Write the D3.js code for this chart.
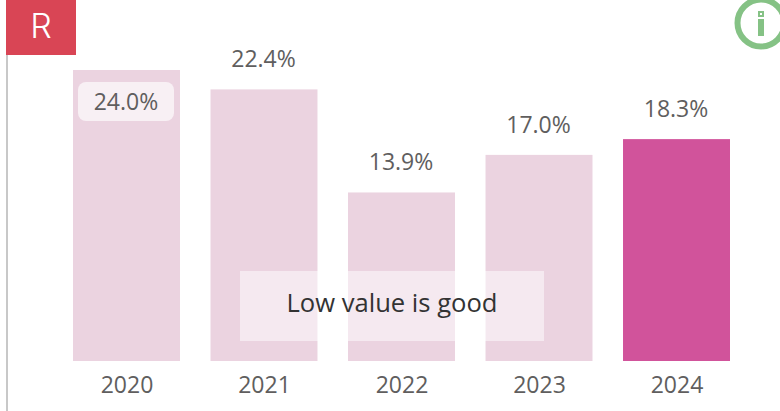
<!DOCTYPE html>
<html><head><meta charset="utf-8">
<script src="https://cdn.jsdelivr.net/npm/d3@7"></script>
<style>html,body{margin:0;padding:0;background:#fff}svg{display:block}text{font-family:"Open Sans",sans-serif}</style>
</head><body><svg id="c" width="780" height="411"></svg>
<script>
const years = ["2020","2021","2022","2023","2024"];
const values = [24.0,22.4,13.9,17.0,18.3];
const highlightYear = "2024";
const note = "Low value is good";
const badge = "R";

const svg = d3.select("#c");
const x = d3.scaleBand().domain(years).range([73,730]).paddingInner(0.222);
const y = d3.scaleLinear().domain([0,24]).range([361,70]);

svg.append("rect").attr("x",6).attr("y",0).attr("width",2).attr("height",411).attr("fill","#c8c8c8");
svg.append("rect").attr("x",6).attr("y",0).attr("width",70).attr("height",55).attr("fill","#d94555");
svg.append("text").attr("x",41).attr("y",38).attr("text-anchor","middle").attr("fill","#fff").attr("font-size",34).attr("font-family","Inter, sans-serif").style("font-family","Inter, sans-serif").attr("font-weight",300).text(badge);

svg.selectAll("rect.bar").data(years).join("rect").attr("class","bar")
  .attr("x",d=>x(d)).attr("width",x.bandwidth())
  .attr("y",(d,i)=>y(values[i])).attr("height",(d,i)=>y(0)-y(values[i]))
  .attr("fill",d=>d===highlightYear?"#d1539b":"#ebd3e0");

svg.append("rect").attr("x",240).attr("y",271).attr("width",304).attr("height",70).attr("fill","#fff").attr("fill-opacity",0.5);
svg.append("text").attr("x",392).attr("y",311.5).attr("text-anchor","middle").attr("fill","#333").attr("font-size",25.6).text(note);

svg.append("rect").attr("x",78).attr("y",82).attr("width",96).attr("height",39).attr("rx",8).attr("fill","#fff").attr("fill-opacity",0.65);
svg.selectAll("text.val").data(years).join("text").attr("class","val")
  .attr("x",d=>x(d)+x.bandwidth()/2-0.5)
  .attr("y",(d,i)=>i===0?y(values[i])+40:y(values[i])-22)
  .attr("text-anchor","middle").attr("fill","#605e5e").attr("font-size",23)
  .text((d,i)=>values[i].toFixed(1)+"%");

const ax = svg.append("g").attr("transform","translate(0.5,361)").call(d3.axisBottom(x).tickSize(0).tickPadding(16));
ax.select(".domain").remove();
ax.selectAll("text").attr("font-size",23).attr("fill","#605e5e").style("font-family",'"Open Sans",sans-serif');

const g = svg.append("g");
g.append("circle").attr("cx",761).attr("cy",23).attr("r",23.5).attr("fill","#fff").attr("stroke","#85c285").attr("stroke-width",6);
g.append("rect").attr("x",758).attr("y",19).attr("width",6).attr("height",17).attr("fill","#85c285");
g.append("rect").attr("x",758).attr("y",11).attr("width",6).attr("height",6).attr("fill","#85c285");
g.append("rect").attr("x",760).attr("y",13).attr("width",2).attr("height",2).attr("fill","#fff");
</script></body></html>
